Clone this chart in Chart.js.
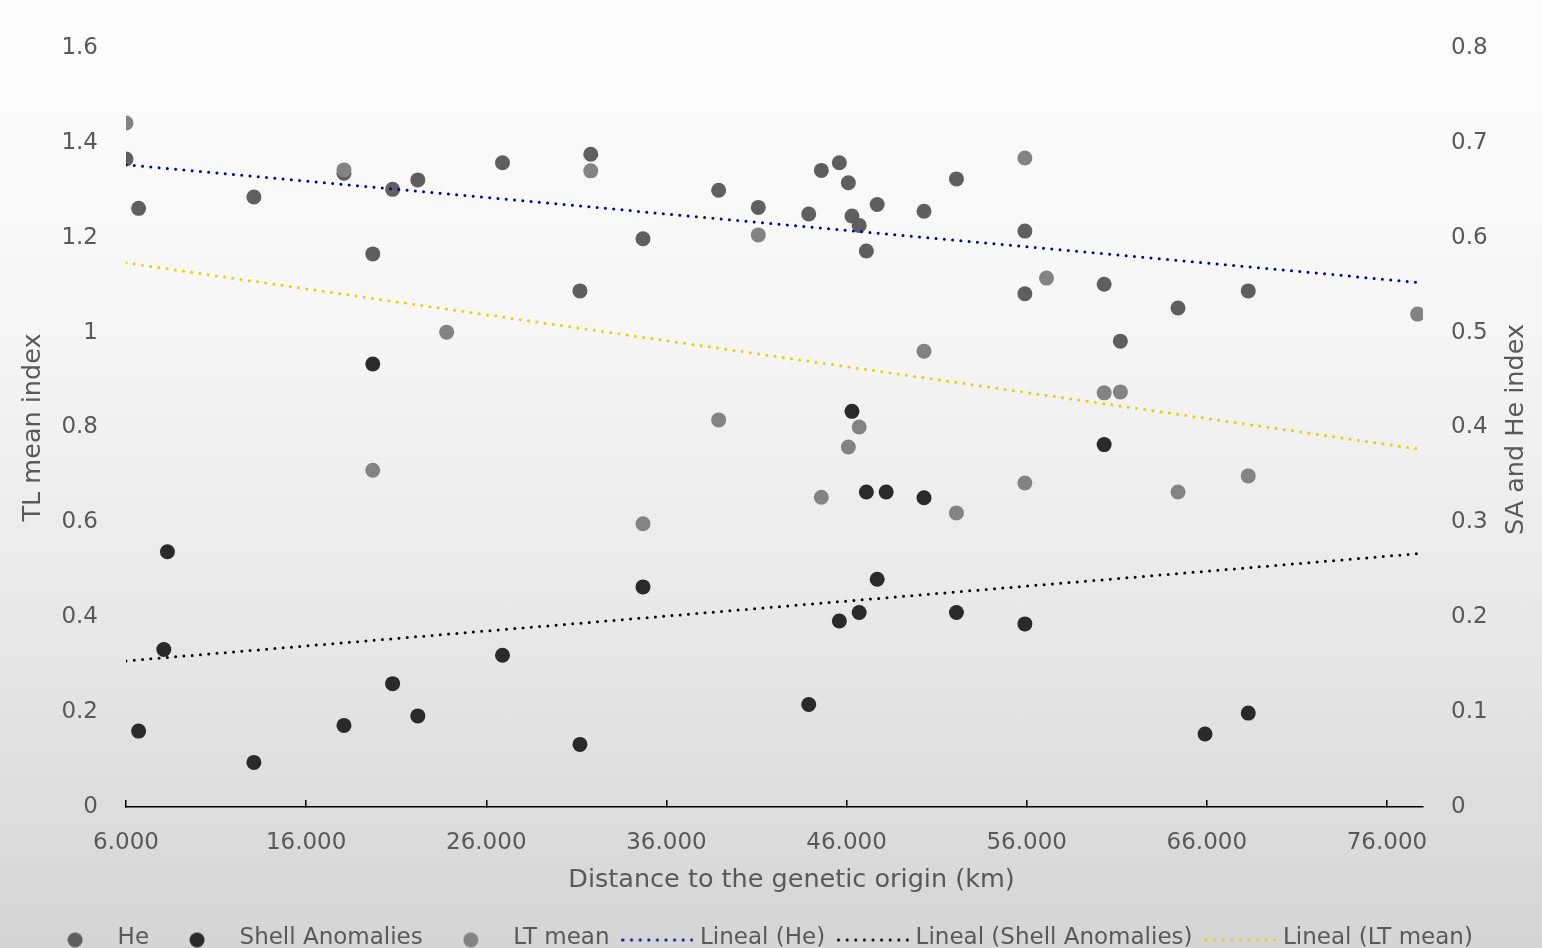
<!DOCTYPE html>
<html>
<head>
<meta charset="utf-8">
<script src="https://cdn.jsdelivr.net/npm/chart.js@4.4.1/dist/chart.umd.min.js"></script>
<style>
  html, body { margin: 0; padding: 0; overflow: hidden; }
  body {
    width: 1542px; height: 948px;
    background: linear-gradient(to bottom, #fcfcfc 0px, #f7f7f7 300px, #e7e7e7 640px, #d4d4d4 960px);
  }
  #wrap { width: 1542px; height: 960px; }
</style>
</head>
<body>
<div id="wrap"><canvas id="chart" width="1542" height="960"></canvas></div>
<script>
// Distance to the genetic origin (km) per sampled site
const heX = [6000, 6700, 13100, 18100, 19700, 20800, 22200, 26900, 31200, 31800, 34700, 38900, 41100, 43900, 44600, 45600, 46100, 46300, 46700, 47100, 47700, 50300, 52100, 55900, 55900, 60300, 61200, 64400, 68300];
const heY = [0.683, 0.631, 0.643, 0.668, 0.583, 0.651, 0.661, 0.679, 0.544, 0.688, 0.599, 0.650, 0.632, 0.625, 0.671, 0.679, 0.658, 0.623, 0.613, 0.586, 0.635, 0.628, 0.662, 0.607, 0.541, 0.551, 0.491, 0.526, 0.544];

const saX = [6700, 8100, 8300, 13100, 18100, 19700, 20800, 22200, 26900, 31200, 34700, 43900, 45600, 46300, 46700, 47100, 47700, 48200, 50300, 52100, 55900, 60300, 65900, 68300];
const saY = [0.080, 0.166, 0.269, 0.047, 0.086, 0.467, 0.130, 0.096, 0.160, 0.066, 0.232, 0.108, 0.196, 0.417, 0.205, 0.332, 0.240, 0.332, 0.326, 0.205, 0.193, 0.382, 0.077, 0.099];

const ltX = [6000, 18100, 19700, 23800, 31800, 34700, 38900, 41100, 44600, 46100, 46700, 50300, 52100, 55900, 55900, 57100, 60300, 61200, 64400, 68300, 77700];
const ltY = [1.442, 1.343, 0.710, 1.001, 1.341, 0.597, 0.816, 1.206, 0.653, 0.759, 0.801, 0.961, 0.620, 1.368, 0.683, 1.115, 0.873, 0.875, 0.664, 0.698, 1.039];

// Linear fits (start and end of each line)
const trendX = [6000, 77700];
const heTrend = [0.677, 0.553];
const saTrend = [0.154, 0.267];
const ltTrend = [1.147, 0.755];

const xTicks = [6000, 16000, 26000, 36000, 46000, 56000, 66000, 76000];

const seriesNames = ['He', 'Shell Anomalies', 'LT mean', 'Lineal (He)', 'Lineal (Shell Anomalies)', 'Lineal (LT mean)'];
const colors = ['#5f5f5f', '#2a2a2a', '#838383', '#000099', '#000000', '#e3d000'];

const FONT = 'DejaVu Sans';
const TEXT = '#595959';
Chart.defaults.font.family = FONT;
Chart.defaults.color = TEXT;

const pts = (xs, ys) => xs.map((x, i) => ({ x, y: ys[i] }));

function dotSwatch(color) {
  const c = document.createElement('canvas');
  c.width = 16; c.height = 20;
  const g = c.getContext('2d');
  g.fillStyle = color;
  g.beginPath(); g.arc(8, 11.5, 7.5, 0, Math.PI * 2); g.fill();
  return c;
}
function lineSwatch(color) {
  const c = document.createElement('canvas');
  c.width = 72; c.height = 20;
  const g = c.getContext('2d');
  g.strokeStyle = color; g.lineWidth = 3; g.lineCap = 'round';
  g.setLineDash([0, 8.6]);
  g.beginPath(); g.moveTo(1.5, 11.5); g.lineTo(71, 11.5); g.stroke();
  return c;
}
const swatches = [dotSwatch(colors[0]), dotSwatch(colors[1]), dotSwatch(colors[2]),
                  lineSwatch(colors[3]), lineSwatch(colors[4]), lineSwatch(colors[5])];

const scatterSet = (i, xs, ys, axis, order) => ({
  label: seriesNames[i], data: pts(xs, ys), yAxisID: axis, order,
  backgroundColor: colors[i], borderColor: colors[i],
  pointRadius: 7.5, pointHoverRadius: 7.5, pointBorderWidth: 0, showLine: false
});
const trendSet = (i, ys, axis, order) => ({
  label: seriesNames[i], data: pts(trendX, ys), yAxisID: axis, order,
  borderColor: colors[i], backgroundColor: colors[i],
  showLine: true, pointRadius: 0, pointHoverRadius: 0,
  borderWidth: 3, borderDash: [0, 8.3], borderCapStyle: 'round', fill: false
});

// Axis captions that sit outside the scales' own title slots
const captions = {
  id: 'captions',
  afterDraw(chart) {
    const { ctx, chartArea } = chart;
    ctx.save();
    ctx.fillStyle = TEXT;
    ctx.font = '25.5px "' + FONT + '"';
    ctx.textAlign = 'center';
    ctx.textBaseline = 'middle';
    ctx.fillText('Distance to the genetic origin (km)', 791.5, 880);
    ctx.translate(1516, (chartArea.top + chartArea.bottom) / 2 + 2);
    ctx.rotate(-Math.PI / 2);
    ctx.fillText('SA and He index', 0, 0);
    ctx.restore();
  }
};

new Chart(document.getElementById('chart'), {
  type: 'scatter',
  data: {
    datasets: [
      scatterSet(0, heX, heY, 'y1', 6),
      scatterSet(1, saX, saY, 'y1', 5),
      scatterSet(2, ltX, ltY, 'y', 4),
      trendSet(3, heTrend, 'y1', 3),
      trendSet(4, saTrend, 'y1', 2),
      trendSet(5, ltTrend, 'y', 1)
    ]
  },
  options: {
    responsive: false,
    animation: false,
    events: [],
    layout: { padding: { top: 48, right: 25, bottom: 0, left: 0 } },
    scales: {
      x: {
        type: 'linear', position: 'bottom', min: 6000, max: 78000,
        afterBuildTicks: s => { s.ticks = xTicks.map(v => ({ value: v })); },
        afterFit: s => { s.height = 103; },
        ticks: {
          padding: 29,
          font: { size: 23 }, color: TEXT,
          callback: v => String(v).replace(/\B(?=(\d{3})+(?!\d))/g, '.')
        },
        grid: { display: true, drawOnChartArea: false, drawTicks: true, tickLength: -7, color: '#000', lineWidth: 1.5 },
        border: { display: true, color: '#000', width: 1.5 },
        title: { display: false }
      },
      y: {
        position: 'left', min: 0, max: 1.6,
        afterFit: s => { s.width = 126; },
        ticks: { stepSize: 0.2, padding: 28, font: { size: 23 }, color: TEXT,
                 callback: v => String(Math.round(v * 10) / 10) },
        grid: { display: false, drawTicks: false },
        border: { display: false },
        title: { display: true, text: 'TL mean index', color: TEXT, font: { size: 25.5 }, padding: { top: 17.7, bottom: 0 } }
      },
      y1: {
        position: 'right', min: 0, max: 0.8,
        afterFit: s => { s.width = 94; },
        ticks: { stepSize: 0.1, padding: 28, font: { size: 23 }, color: TEXT,
                 callback: v => String(Math.round(v * 10) / 10) },
        grid: { display: false, drawTicks: false },
        border: { display: false },
        title: { display: false }
      }
    },
    plugins: {
      tooltip: { enabled: false },
      title: { display: false },
      legend: {
        display: true, position: 'bottom', align: 'center',
        labels: {
          usePointStyle: true, pointStyleWidth: 62, padding: 17,
          font: { size: 23 }, color: TEXT,
          sort: (a, b) => a.datasetIndex - b.datasetIndex,
          generateLabels: chart => chart.data.datasets.map((ds, i) => ({
            text: ds.label, datasetIndex: i, pointStyle: swatches[i],
            fillStyle: colors[i], strokeStyle: colors[i], lineWidth: 0,
            fontColor: TEXT, hidden: false
          }))
        }
      }
    }
  },
  plugins: [captions]
});
</script>
</body>
</html>
